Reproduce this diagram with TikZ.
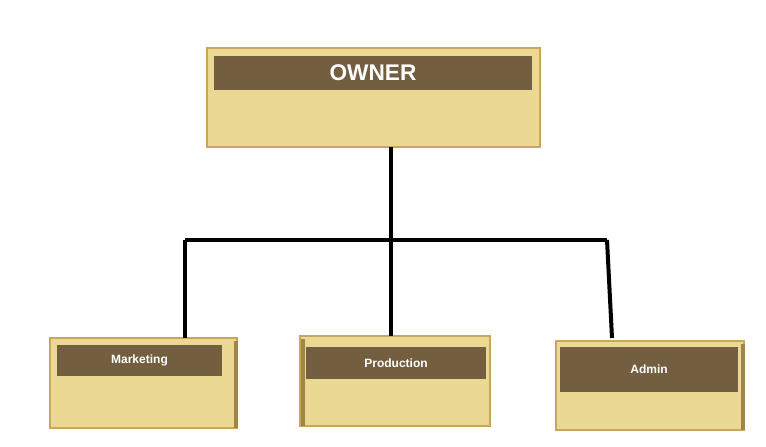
\documentclass[tikz,border=0pt]{standalone}
\usepackage{fontspec}
\setmainfont{Liberation Sans}
\definecolor{boxfill}{HTML}{EBD892}
\definecolor{boxedge}{HTML}{C9A55E}
\definecolor{barfill}{HTML}{735F40}
\begin{document}
\begin{tikzpicture}[x=0.75pt,y=-0.75pt,
  card/.style={draw=boxedge,fill=boxfill,line width=1.5pt},
  bar/.style={fill=barfill,draw=none,text=white,font=\bfseries},
  link/.style={line width=3pt,black}]
\useasboundingbox (0,0) rectangle (766,446);
% owner
\draw[card] (207,48) rectangle (540,147);
\node[bar,minimum width=318*0.75pt,minimum height=34*0.75pt,inner sep=0pt,font=\bfseries\fontsize{17}{20}\selectfont] (owner) at (373,73) {OWNER};
% marketing
\draw[card] (50,338) rectangle (237,428);
\draw[boxedge!80!black,line width=2.5pt] (236,341) -- (236,428);
\node[bar,minimum width=165*0.75pt,minimum height=31*0.75pt,inner sep=0pt,font=\bfseries\small] (mkt) at (139.5,360.5) {Marketing};
% production
\draw[card] (300,336) rectangle (490,426);
\draw[boxedge!80!black,line width=2.5pt] (303,339) -- (303,426);
\node[bar,minimum width=180*0.75pt,minimum height=32*0.75pt,inner sep=0pt,font=\bfseries\small] (prod) at (396,363) {Production};
% admin
\draw[card] (556,341) rectangle (744,430);
\draw[boxedge!80!black,line width=2.5pt] (743,344) -- (743,430);
\node[bar,minimum width=178*0.75pt,minimum height=45*0.75pt,inner sep=0pt,font=\bfseries\small] (adm) at (649,369.5) {Admin};
% connectors
\coordinate (os) at (391,147);
\coordinate (jc) at (391,240);
\coordinate (jl) at (185,240);
\coordinate (jr) at (607,240);
\coordinate (ml) at (185,338);
\coordinate (pm) at (391,336);
\coordinate (ar) at (612,338);
\draw[link] (os) -- (jc);
\draw[link] (jl) -- (jr);
\draw[link] (jl) -- (ml);
\draw[link] (jc) -- (pm);
\draw[link] (jr) -- (ar);
\end{tikzpicture}
\end{document}
